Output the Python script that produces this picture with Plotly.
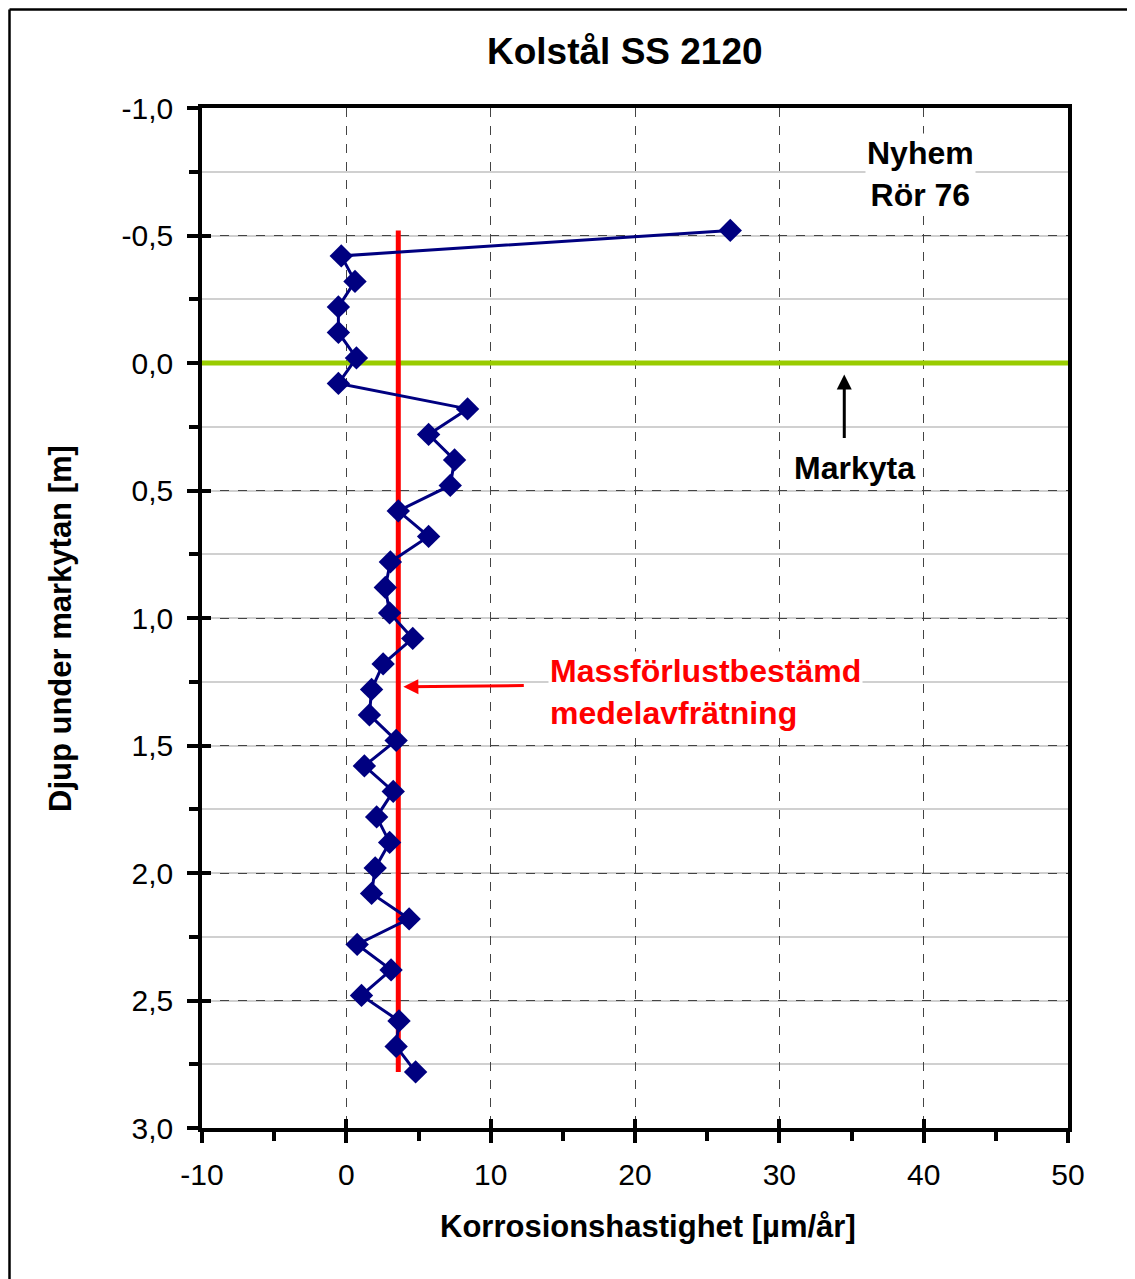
import plotly.graph_objects as go

# Data
depth = [-0.52, -0.42, -0.32, -0.22, -0.12, -0.02, 0.08, 0.18, 0.28, 0.38, 0.48,
         0.58, 0.68, 0.78, 0.88, 0.98, 1.08, 1.18, 1.28, 1.38, 1.48, 1.58, 1.68,
         1.78, 1.88, 1.98, 2.08, 2.18, 2.28, 2.38, 2.48, 2.58, 2.68, 2.78]
rate = [26.6, -0.35, 0.6, -0.55, -0.55, 0.7, -0.55, 8.4, 5.7, 7.5, 7.2,
        3.6, 5.7, 3.05, 2.7, 3.0, 4.6, 2.55, 1.75, 1.6, 3.45, 1.25, 3.25,
        2.1, 3.0, 2.0, 1.75, 4.35, 0.75, 3.1, 1.05, 3.65, 3.45, 4.8]
mean_rate = 3.6
mean_depth = [-0.52, 2.78]
ground_level = 0.0

x_tickvals = [-10, 0, 10, 20, 30, 40, 50]
x_ticktext = ["-10", "0", "10", "20", "30", "40", "50"]
y_tickvals = [-1.0, -0.5, 0.0, 0.5, 1.0, 1.5, 2.0, 2.5, 3.0]
y_ticktext = ["-1,0", "-0,5", "0,0", "0,5", "1,0", "1,5", "2,0", "2,5", "3,0"]

FONT = "Liberation Sans, Arial, sans-serif"
PAGE = 8  # body margin offset of the html page

# plot area in page pixels
L, R, T, B = 202, 1068, 108, 1128
W, H = 1135, 1279
PW, PH = R - L, B - T


def px_x(x):
    return (x - L) / PW


def px_y(y):
    return (B - y) / PH


fig = go.Figure()

fig.add_trace(go.Scatter(x=[-10, 50], y=[ground_level, ground_level], mode="lines",
                         line=dict(color="#99CC00", width=5), hoverinfo="skip", showlegend=False,
                         cliponaxis=False))
fig.add_trace(go.Scatter(x=[mean_rate, mean_rate], y=mean_depth, mode="lines",
                         line=dict(color="#FF0000", width=5), hoverinfo="skip", showlegend=False))
fig.add_trace(go.Scatter(x=rate, y=depth, mode="lines+markers",
                         line=dict(color="#000080", width=3),
                         marker=dict(symbol="diamond", size=18, color="#000080"),
                         showlegend=False))
# dummy trace to activate overlay axes (inside tick marks)
fig.add_trace(go.Scatter(x=[None], y=[None], xaxis="x2", yaxis="y2", mode="markers",
                         showlegend=False, hoverinfo="skip"))

fig.update_layout(
    width=W, height=H,
    paper_bgcolor="white", plot_bgcolor="white",
    margin=dict(l=L - PAGE, r=W + PAGE - R, t=T - PAGE, b=H + PAGE - B),
    font=dict(family=FONT, color="black"),
    showlegend=False,
)

fig.update_layout(
    xaxis=dict(
        range=[-10, 50], tickvals=x_tickvals, ticktext=x_ticktext,
        showgrid=True, gridcolor="#444444", griddash="dash", gridwidth=1,
        showline=True, linecolor="black", linewidth=3.5, mirror=True,
        ticks="outside", ticklen=11, tickwidth=3.5, tickcolor="black",
        minor=dict(dtick=5, tick0=0, ticks="outside", ticklen=9, tickwidth=3.5,
                   tickcolor="black", showgrid=False),
        tickfont=dict(size=30, family=FONT), zeroline=False, ticklabelstandoff=6,
        layer="below traces",
    ),
    yaxis=dict(
        range=[3, -1], tickvals=y_tickvals, ticktext=y_ticktext,
        showgrid=True, gridcolor="#444444", griddash="dash", gridwidth=1,
        showline=True, linecolor="black", linewidth=3.5, mirror=True,
        ticks="outside", ticklen=11, tickwidth=3.5, tickcolor="black",
        minor=dict(dtick=0.25, tick0=0, ticks="outside", ticklen=9, tickwidth=3.5,
                   tickcolor="black", showgrid=True, gridcolor="#D0D0D0", gridwidth=1.5,
                   griddash="solid"),
        tickfont=dict(size=30, family=FONT), zeroline=False, ticklabelstandoff=8,
        layer="below traces",
    ),
    xaxis2=dict(
        range=[-10, 50], tickvals=x_tickvals, overlaying="x", side="bottom",
        showticklabels=False, showgrid=False, zeroline=False, showline=False,
        ticks="inside", ticklen=9, tickwidth=3.5, tickcolor="black",
        layer="below traces",
    ),
    yaxis2=dict(
        range=[3, -1], tickvals=y_tickvals, overlaying="y", side="left",
        showticklabels=False, showgrid=False, zeroline=False, showline=False,
        ticks="inside", ticklen=9, tickwidth=3.5, tickcolor="black",
        layer="below traces",
    ),
)

# title
fig.add_annotation(text="<b>Kolstål SS 2120</b>", xref="paper", yref="paper",
                   x=px_x(625), y=px_y(52), showarrow=False, font=dict(size=37, family=FONT),
                   xanchor="center", yanchor="middle")
# axis titles
fig.add_annotation(text="<b>Korrosionshastighet [µm/år]</b>", xref="paper", yref="paper",
                   x=px_x(648), y=px_y(1226), showarrow=False, font=dict(size=31, family=FONT),
                   xanchor="center", yanchor="middle")
fig.add_annotation(text="<b>Djup under markytan [m]</b>", xref="paper", yref="paper",
                   x=px_x(60), y=px_y(629), showarrow=False, font=dict(size=31, family=FONT),
                   xanchor="center", yanchor="middle", textangle=-90)

# Nyhem label
fig.add_annotation(text="<b>Nyhem<br>Rör 76</b>", x=39.8, y=-0.74, xref="x", yref="y",
                   showarrow=False, font=dict(size=32, family=FONT), bgcolor="white",
                   align="center")

# Markyta label and arrow
fig.add_annotation(text="<b>Markyta</b>", x=35.2, y=0.41, xref="x", yref="y",
                   showarrow=False, font=dict(size=32, family=FONT), bgcolor="white")
fig.add_annotation(text="", x=34.5, y=0.045, ax=34.5, ay=0.30, xref="x", yref="y",
                   axref="x", ayref="y", showarrow=True, arrowhead=2, arrowsize=1,
                   arrowwidth=3, arrowcolor="black")

# mean label and arrow
fig.add_annotation(text="<b>Massförlustbestämd<br>medelavfrätning</b>", x=14.0, y=1.29,
                   xref="x", yref="y", showarrow=False, xanchor="left", align="left",
                   font=dict(size=32, family=FONT, color="#FF0000"), bgcolor="white")
fig.add_annotation(text="", x=3.95, y=1.27, ax=12.4, ay=1.265, xref="x", yref="y",
                   axref="x", ayref="y", showarrow=True, arrowhead=2, arrowsize=1,
                   arrowwidth=3, arrowcolor="#FF0000")

# outer frame (left and top edges)
fig.add_shape(type="line", xref="paper", yref="paper", x0=px_x(9.5), x1=px_x(9.5),
              y0=-0.3, y1=px_y(9.5), line=dict(color="black", width=2.5))
fig.add_shape(type="line", xref="paper", yref="paper", x0=px_x(9.5), x1=1.2,
              y0=px_y(9.5), y1=px_y(9.5), line=dict(color="black", width=2.5))

fig.write_html("out.html")
